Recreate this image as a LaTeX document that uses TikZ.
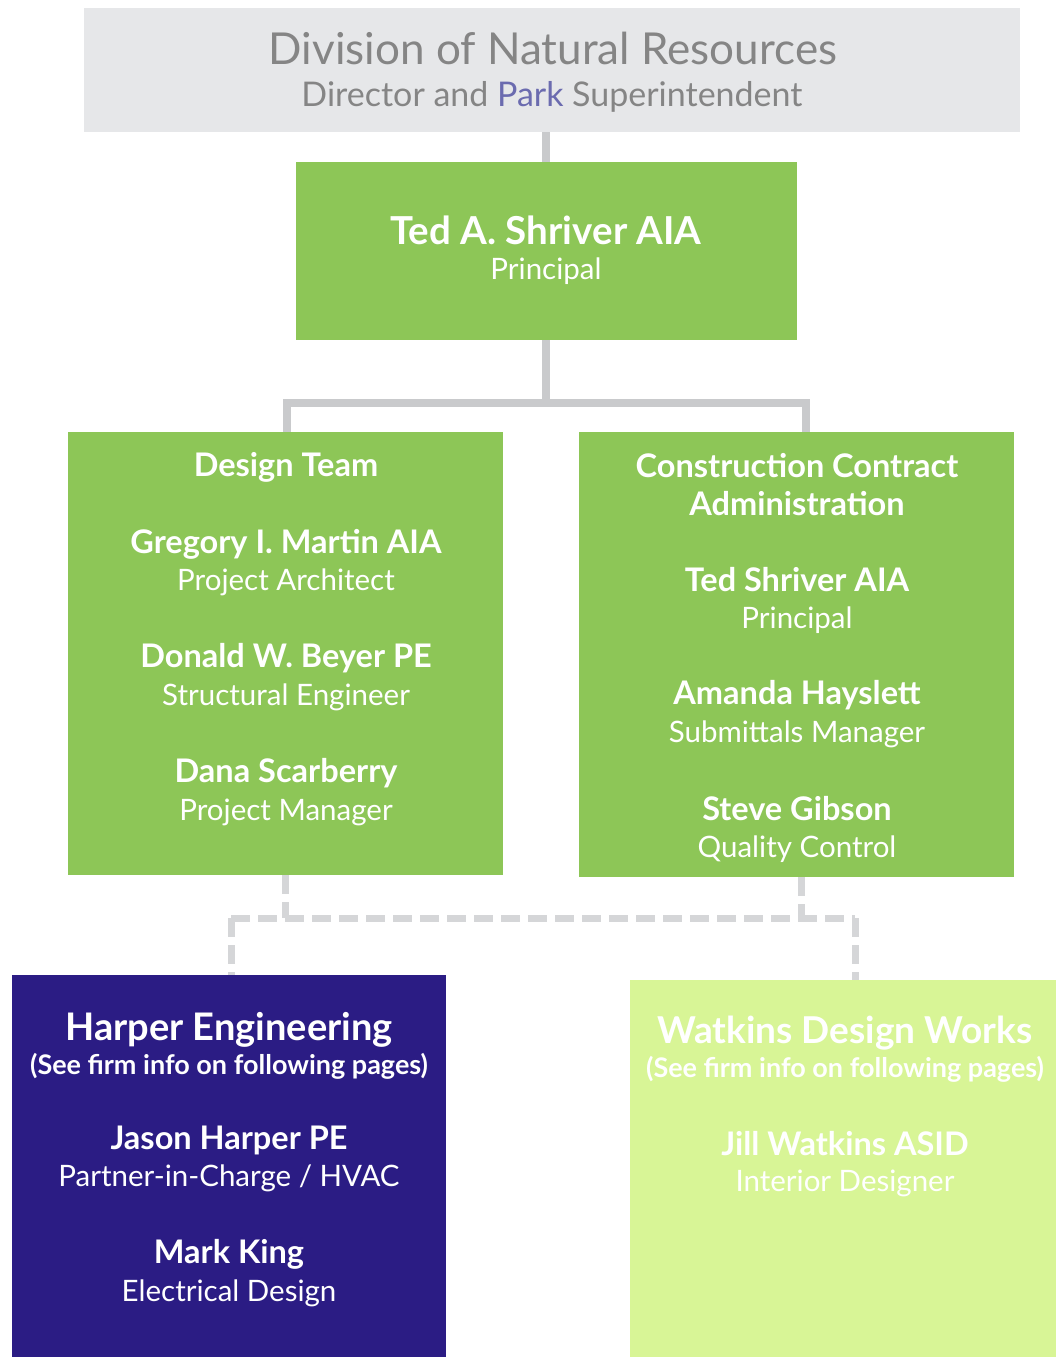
\documentclass[tikz,border=0pt]{standalone}
\usepackage{fontspec}
\setmainfont{Lato}
\definecolor{graybox}{HTML}{E6E7E9}
\definecolor{greenbox}{HTML}{8DC657}
\definecolor{bluebox}{HTML}{2B1C84}
\definecolor{limebox}{HTML}{D8F596}
\definecolor{connc}{HTML}{C9CACC}
\definecolor{dashc}{HTML}{D5D6D8}
\definecolor{titlec}{HTML}{858585}
\definecolor{parkc}{HTML}{6B6BAF}
\newcommand{\fs}[1]{\fontsize{#1}{#1}\selectfont}
\tikzset{
  box/.style={rectangle, draw=none, inner sep=0pt, outer sep=0pt},
  conn/.style={draw=connc, line width=8pt},
  dconn/.style={draw=dashc, line width=7pt, dash pattern=on 19pt off 8pt},
  nm/.style={text=white, font=\bfseries\fs{32.5}, inner sep=0pt},
  rl/.style={text=white, font=\fs{29.5}, inner sep=0pt},
  hd/.style={text=white, font=\bfseries\fs{38}, inner sep=0pt},
  sub/.style={text=white, font=\bfseries\fs{27}, inner sep=0pt}
}
\begin{document}
\begin{tikzpicture}[x=1pt,y=-1pt]
\useasboundingbox (0,0) rectangle (1055,1357);
\fill[white] (0,0) rectangle (1055,1357);

% boxes
\node[box, fill=graybox, minimum width=936pt, minimum height=124pt] (dnr) at (552,70) {};
\node[box, fill=greenbox, minimum width=501pt, minimum height=178pt] (ted) at (546,251) {};
\node[box, fill=greenbox, minimum width=435pt, minimum height=443pt] (dt) at (285,653.5) {};
\node[box, fill=greenbox, minimum width=435pt, minimum height=445pt] (cca) at (796.5,654.5) {};
\node[box, fill=bluebox, minimum width=434pt, minimum height=385pt] (he) at (229,1167.5) {};
\node[box, fill=limebox, minimum width=428pt, minimum height=380pt] (wd) at (844,1170) {};

% connectors
\coordinate (jn) at (546,403);
\draw[conn] (dnr.south -| ted.north) -- (ted.north);
\draw[conn] (ted.south) -- (jn);
\draw[conn] ([xshift=2pt]dt.north) |- (jn) -| ([xshift=9pt]cca.north);

\coordinate (dl) at (231,918);
\coordinate (dr) at (855,918);
\draw[dconn] (dt.south) -- (dt.south |- dl);
\draw[dconn] ([xshift=5pt]cca.south) -- ([xshift=5pt]cca.south |- dr);
\draw[dconn] (dl) -- (dr);
\draw[dconn] (dl) -- (dl |- he.north);
\draw[dconn] (dr) -- (dr |- wd.north);

% header texts
\node[text=titlec, font=\fs{44}, inner sep=0pt] (t1) at (553,48) {Division of Natural Resources};
\node[text=titlec, font=\fs{34}, inner sep=0pt] (t2) at (552,97) {Director and \textcolor{parkc}{Park} Superintendent};

% Ted
\node[hd, font=\bfseries\fs{38.5}] (tn) at (546,230) {Ted A. Shriver AIA};
\node[rl] (tr) at (546,271) {Principal};

% Design team
\node[nm] (dth) at (286,467) {Design Team};
\node[nm] (g1) at (286,544) {Gregory I. Martin AIA};
\node[rl] (g2) at (286,582) {Project Architect};
\node[nm] (d1) at (286,658) {Donald W. Beyer PE};
\node[rl] (d2) at (286,697) {Structural Engineer};
\node[nm] (s1) at (286,773) {Dana Scarberry};
\node[rl] (s2) at (286,812) {Project Manager};

% CCA
\node[nm] (ch1) at (797,466) {Construction Contract};
\node[nm] (ch2) at (797,504) {Administration};
\node[nm] (c1) at (797,580) {Ted Shriver AIA};
\node[rl] (c2) at (797,620) {Principal};
\node[nm] (a1) at (797,695) {Amanda Hayslett};
\node[rl] (a2) at (797,734) {Submittals Manager};
\node[nm] (q1) at (797,809) {Steve Gibson};
\node[rl] (q2) at (797,849) {Quality Control};

% Harper
\node[hd] (hh) at (229,1030) {Harper Engineering};
\node[sub] (hs) at (229,1066) {(See firm info on following pages)};
\node[nm] (j1) at (229,1140) {Jason Harper PE};
\node[rl] (j2) at (229,1178) {Partner-in-Charge / HVAC};
\node[nm] (m1) at (229,1254) {Mark King};
\node[rl] (m2) at (229,1293) {Electrical Design};

% Watkins
\node[hd, font=\bfseries\fs{37}] (wh) at (845,1033) {Watkins Design Works};
\node[sub] (ws) at (845,1069) {(See firm info on following pages)};
\node[nm] (w1) at (845,1144) {Jill Watkins ASID};
\node[rl] (w2) at (845,1183) {Interior Designer};
\end{tikzpicture}
\end{document}
